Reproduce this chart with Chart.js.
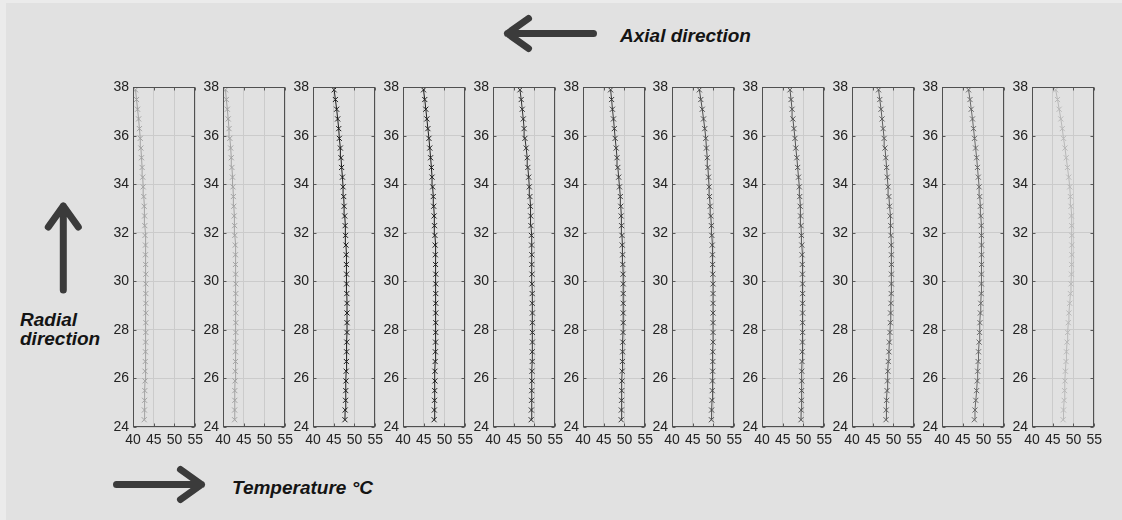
<!DOCTYPE html>
<html>
<head>
<meta charset="utf-8">
<script src="https://cdn.jsdelivr.net/npm/chart.js@4.4.1/dist/chart.umd.min.js"></script>
<style>
  html, body { margin: 0; padding: 0; background: #e1e1e1; }
  #wrap { position: relative; width: 1122px; height: 520px; overflow: hidden; background: #e1e1e1; }
  #edgeTop { position: absolute; left: 0; top: 0; width: 1122px; height: 3px; background: #ebebeb; }
  #edgeLeft { position: absolute; left: 0; top: 0; width: 6px; height: 520px; background: #ebebeb; }
  .panel { position: absolute; }
  .lbl { position: absolute; font-family: "Liberation Sans", Arial, sans-serif; font-weight: bold;
         font-style: italic; font-size: 19px; line-height: 19px; color: #141414; white-space: nowrap; }
  svg { position: absolute; left: 0; top: 0; }
</style>
</head>
<body>
<div id="wrap">
  <div id="edgeTop"></div>
  <div id="edgeLeft"></div>
  <svg width="1122" height="520">
    <g stroke="#3b3b3b" stroke-width="7" stroke-linecap="round" stroke-linejoin="round" fill="none">
      <!-- axial arrow, pointing left -->
      <path d="M593.5,33.5 H507.5 M528.5,18.5 L507.5,33.5 L528.5,48.5"/>
      <!-- radial arrow, pointing up -->
      <path d="M63.3,290 V206 M48.3,227 L63.3,206 L78.3,227"/>
      <!-- temperature arrow, pointing right -->
      <path d="M116.5,484.5 H201.5 M180.5,469.5 L201.5,484.5 L180.5,499.5"/>
    </g>
  </svg>
  <div class="lbl" style="left:620px;top:26px">Axial direction</div>
  <div class="lbl" style="left:20px;top:310px">Radial<br>direction</div>
  <div class="lbl" style="left:232px;top:478px">Temperature °C</div>
</div>
<script>
// Radial positions of the measurement points (shared by every slice)
const radial = [24.3, 24.7, 25.1, 25.5, 25.9, 26.3, 26.7, 27.1, 27.5, 27.9, 28.3, 28.7,
                29.1, 29.5, 29.9, 30.3, 30.7, 31.1, 31.5, 31.9, 32.3, 32.7, 33.1, 33.5,
                33.9, 34.3, 34.7, 35.1, 35.5, 35.9, 36.3, 36.7, 37.1, 37.5, 37.9];

// Temperature profiles, one per axial slice (left to right)
const slice1 = [42.7, 42.75, 42.8, 42.85, 42.9, 42.9, 42.95, 43.0, 43.05, 43.1, 43.1, 43.1,
                43.1, 43.1, 43.1, 43.1, 43.05, 43.0, 43.0, 42.9, 42.85, 42.8, 42.7, 42.6,
                42.45, 42.35, 42.2, 42.05, 41.9, 41.75, 41.55, 41.35, 41.1, 40.85, 40.6];
const slice2 = [42.8, 42.8, 42.85, 42.85, 42.9, 42.95, 43.0, 43.0, 43.05, 43.1, 43.1, 43.1,
                43.1, 43.1, 43.1, 43.05, 43.0, 43.0, 42.95, 42.85, 42.8, 42.7, 42.6, 42.5,
                42.4, 42.3, 42.15, 42.0, 41.85, 41.65, 41.45, 41.25, 41.05, 40.8, 40.6];
const slice3 = [47.7, 47.75, 47.85, 47.9, 47.95, 48.0, 48.05, 48.1, 48.15, 48.2, 48.2, 48.2,
                48.2, 48.15, 48.1, 48.1, 48.05, 48.0, 47.95, 47.85, 47.75, 47.65, 47.5, 47.4,
                47.25, 47.1, 46.9, 46.75, 46.6, 46.35, 46.2, 45.95, 45.7, 45.4, 45.1];
const slice4 = [47.5, 47.55, 47.6, 47.65, 47.7, 47.7, 47.75, 47.8, 47.85, 47.9, 47.9, 47.9,
                47.9, 47.9, 47.9, 47.9, 47.85, 47.8, 47.75, 47.7, 47.6, 47.5, 47.4, 47.3,
                47.15, 47.0, 46.85, 46.65, 46.45, 46.25, 46.0, 45.75, 45.5, 45.25, 44.95];
const slice5 = [49.2, 49.25, 49.3, 49.35, 49.4, 49.4, 49.45, 49.45, 49.5, 49.5, 49.5, 49.5,
                49.45, 49.45, 49.4, 49.4, 49.35, 49.35, 49.3, 49.25, 49.15, 49.1, 49.0, 48.9,
                48.75, 48.6, 48.4, 48.25, 48.0, 47.7, 47.5, 47.3, 47.05, 46.8, 46.5];
const slice6 = [49.2, 49.25, 49.3, 49.35, 49.4, 49.45, 49.5, 49.55, 49.6, 49.65, 49.7, 49.7,
                49.7, 49.7, 49.7, 49.65, 49.6, 49.55, 49.45, 49.4, 49.3, 49.2, 49.1, 49.0,
                48.8, 48.6, 48.4, 48.2, 48.0, 47.75, 47.55, 47.35, 47.1, 46.9, 46.65];
const slice7 = [49.5, 49.55, 49.65, 49.7, 49.75, 49.8, 49.85, 49.85, 49.9, 49.9, 49.9, 49.9,
                49.9, 49.9, 49.9, 49.85, 49.8, 49.75, 49.7, 49.6, 49.5, 49.35, 49.2, 49.05,
                48.95, 48.8, 48.65, 48.5, 48.3, 48.15, 47.9, 47.6, 47.3, 46.95, 46.6];
const slice8 = [49.4, 49.45, 49.5, 49.55, 49.6, 49.6, 49.65, 49.7, 49.75, 49.8, 49.8, 49.8,
                49.8, 49.8, 49.8, 49.75, 49.7, 49.65, 49.6, 49.5, 49.4, 49.3, 49.2, 49.1,
                49.0, 48.8, 48.6, 48.4, 48.15, 47.95, 47.7, 47.45, 47.25, 47.0, 46.75];
const slice9 = [48.2, 48.25, 48.35, 48.45, 48.55, 48.65, 48.75, 48.9, 49.0, 49.15, 49.25, 49.3,
                49.4, 49.45, 49.5, 49.5, 49.5, 49.5, 49.45, 49.4, 49.35, 49.2, 49.05, 48.9,
                48.7, 48.5, 48.35, 48.15, 47.95, 47.75, 47.5, 47.25, 47.0, 46.7, 46.4];
const slice10 = [47.8, 47.95, 48.15, 48.35, 48.5, 48.6, 48.7, 48.8, 48.95, 49.05, 49.15, 49.25,
                 49.35, 49.45, 49.5, 49.5, 49.55, 49.55, 49.55, 49.5, 49.45, 49.35, 49.25, 49.1,
                 48.95, 48.75, 48.55, 48.35, 48.1, 47.85, 47.6, 47.35, 47.05, 46.75, 46.4];
const slice11 = [47.5, 47.6, 47.75, 47.85, 47.95, 48.05, 48.2, 48.3, 48.45, 48.6, 48.75, 48.9,
                 49.1, 49.25, 49.4, 49.5, 49.55, 49.6, 49.6, 49.6, 49.55, 49.5, 49.4, 49.25,
                 49.1, 48.85, 48.55, 48.25, 47.95, 47.6, 47.3, 46.95, 46.55, 46.15, 45.7];

const slices = [slice1, slice2, slice3, slice4, slice5, slice6, slice7, slice8, slice9, slice10, slice11];
const sliceColours = ['#a2a2a2', '#a2a2a2', '#1c1c1c', '#1e1e1e', '#2f2f2f', '#393939',
                      '#4a4a4a', '#525252', '#5c5c5c', '#686868', '#b8b8b8'];

// Axis ticks
const tempTicks = [40, 45, 50, 55];
const radialTicks = [24, 26, 28, 30, 32, 34, 36, 38];

// Panel geometry (plot-area boxes)
const firstLeft = 133, pitch = 89.9, plotW = 63, plotTop = 87, plotH = 340;
const padL = 30, padT = 8, padR = 12, padB = 24;

Chart.defaults.font.family = "'Liberation Sans', Arial, sans-serif";
Chart.defaults.font.size = 14;
Chart.defaults.color = '#222';

// Axes box plus short tick marks on all four sides
const frame = {
  id: 'frame',
  afterDraw(chart) {
    const { ctx, chartArea: a, scales } = chart;
    const L = Math.round(a.left) + 0.5, R = Math.round(a.right) - 0.5;
    const T = Math.round(a.top) + 0.5, B = Math.round(a.bottom) - 0.5;
    ctx.save();
    ctx.strokeStyle = '#5a5a5a';
    ctx.lineWidth = 1;
    ctx.beginPath();
    scales.y.ticks.forEach(t => {
      const yp = Math.round(scales.y.getPixelForValue(t.value)) + 0.5;
      ctx.moveTo(L, yp); ctx.lineTo(L + 3, yp);
      ctx.moveTo(R, yp); ctx.lineTo(R - 3, yp);
    });
    scales.x.ticks.forEach(t => {
      const xp = Math.round(scales.x.getPixelForValue(t.value)) + 0.5;
      ctx.moveTo(xp, B); ctx.lineTo(xp, B - 3);
      ctx.moveTo(xp, T); ctx.lineTo(xp, T + 3);
    });
    ctx.stroke();
    ctx.strokeStyle = '#505050';
    ctx.strokeRect(L, T, R - L, B - T);
    ctx.restore();
  }
};

const wrap = document.getElementById('wrap');
slices.forEach((temps, k) => {
  const left = Math.round(firstLeft + pitch * k);
  const box = document.createElement('div');
  box.className = 'panel';
  const w = padL + plotW + padR, h = padT + plotH + padB;
  box.style.width = w + 'px';
  box.style.height = h + 'px';
  const cv = document.createElement('canvas');
  cv.width = w; cv.height = h;
  cv.style.width = w + 'px'; cv.style.height = h + 'px';
  box.appendChild(cv);
  wrap.appendChild(box);

  const pts = radial.map((r, i) => ({ x: temps[i], y: r }));
  const chart = new Chart(cv, {
    type: 'scatter',
    data: {
      datasets: [{
        data: pts,
        showLine: true,
        borderColor: sliceColours[k],
        backgroundColor: sliceColours[k],
        borderWidth: 1,
        pointStyle: 'crossRot',
        pointRadius: 3.6,
        pointBorderWidth: 1,
        pointBorderColor: sliceColours[k],
        tension: 0
      }]
    },
    options: {
      responsive: false,
      maintainAspectRatio: false,
      animation: false,
      devicePixelRatio: 1,
      events: [],
      layout: { padding: { left: 2, top: 2, right: padR, bottom: 2 } },
      plugins: { legend: { display: false }, tooltip: { enabled: false } },
      scales: {
        x: {
          type: 'linear', min: 40, max: 55,
          afterBuildTicks: s => { s.ticks = tempTicks.map(v => ({ value: v })); },
          afterFit: s => { s.height = padB - 2; },
          ticks: { autoSkip: false, maxRotation: 0, padding: 5, color: '#222' },
          grid: { color: '#cbcbcb', drawTicks: false, lineWidth: 1 },
          border: { display: false }
        },
        y: {
          type: 'linear', min: 24, max: 38,
          afterBuildTicks: s => { s.ticks = radialTicks.map(v => ({ value: v })); },
          afterFit: s => { s.width = padL - 2; },
          ticks: { autoSkip: false, padding: 4, color: '#222' },
          grid: { color: '#cbcbcb', drawTicks: false, lineWidth: 1 },
          border: { display: false }
        }
      }
    },
    plugins: [frame]
  });

  // size the canvas so the plot box is exactly plotH tall, then place it
  const a0 = chart.chartArea;
  const newH = Math.round(h + plotH - (a0.bottom - a0.top));
  if (newH !== h) {
    box.style.height = newH + 'px';
    chart.resize(w, newH);
  }
  const a = chart.chartArea;
  box.style.left = Math.round(left - a.left) + 'px';
  box.style.top = Math.round(plotTop - a.top) + 'px';
});
</script>
</body>
</html>
